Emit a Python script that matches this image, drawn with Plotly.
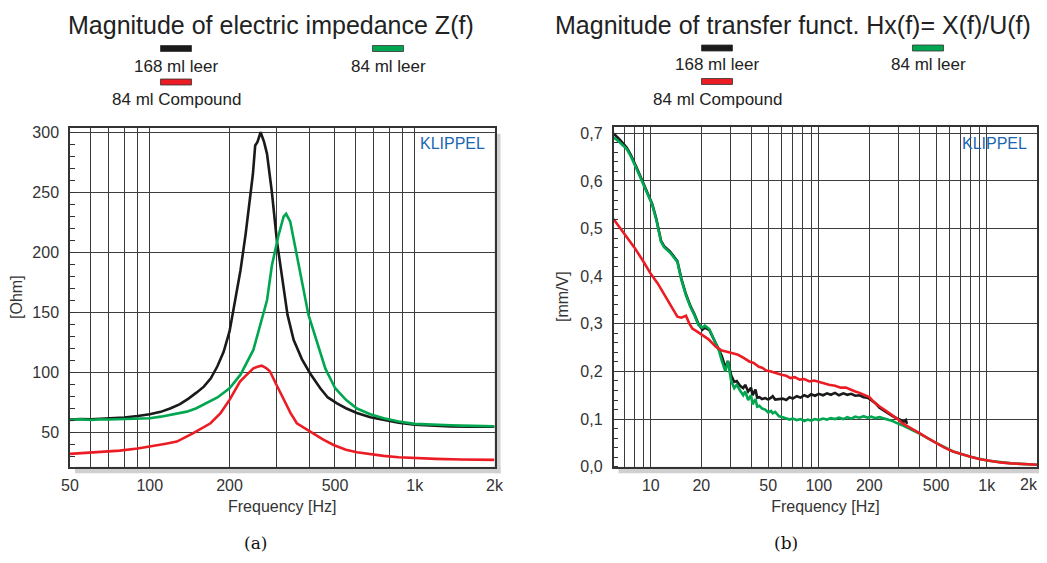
import plotly.graph_objects as go
import math

# page offset of the figure inside the browser body (default body margin)
OFF = 8
W, H = 1047 - OFF, 563 - 2 * OFF

# ---------------- data: left (impedance) ----------------
z_f_black = [50, 55, 60, 65, 70, 80, 90, 100, 110, 120, 130, 140, 150, 160, 170, 180, 190, 200,
             210, 220, 230, 236, 245, 250, 255, 262, 270, 277, 289, 302, 315, 331, 349, 375, 403,
             440, 470, 509, 550, 605, 680, 763, 870, 1000, 1200, 1364, 1600, 2000]
z_black = [60.5, 61, 60.8, 61.2, 61.5, 62.3, 63.5, 65, 67, 70, 73.5, 78, 83, 88, 95, 105, 117, 134,
           160, 185, 215, 237, 265, 289, 292, 300, 292, 282, 250, 209, 181, 148, 127, 111, 99,
           86.6, 79, 74, 70, 66, 62.5, 60.3, 58, 56.2, 55.2, 54.8, 54.6, 54.6]

z_f_green = [50, 55, 60, 65, 70, 80, 90, 100, 110, 120, 138, 150, 164, 180, 200, 220, 246, 260,
             269, 277, 289, 306, 320, 327, 339, 359, 380, 397, 428, 460, 501, 550, 605, 680, 763,
             870, 1000, 1200, 1364, 1500, 1700, 2000]
z_green = [60.3, 60.8, 60.2, 60.9, 60.6, 61, 61.3, 61.7, 63, 64.5, 67.2, 70, 74.2, 79, 86.7, 98, 118.6, 137,
           150.5, 160, 189, 214, 229.7, 232, 225.5, 198, 170, 148, 125, 103, 86.7, 77, 69.8, 65, 61.6,
           59, 57, 56, 55.8, 55.5, 55.3, 55]

z_f_red = [50, 60, 77, 90, 100, 115, 126.5, 146, 169.5, 185, 200, 210, 219, 230, 246, 255, 264.5,
           275, 284, 300, 320, 340, 359, 403, 450, 494, 550, 605, 680, 763, 870, 1000, 1200, 1500, 2000]
z_red = [32, 33.3, 34.7, 36.5, 38, 40.5, 42.2, 49.2, 57.5, 66, 77, 85, 92.2, 97, 103.3, 104.5, 105.5,
         103.5, 100.8, 90, 77, 66, 57.5, 50.8, 44, 39.4, 35.5, 33.3, 31.5, 30.3, 29.2, 28.4, 27.8, 27.3, 27]

# ---------------- data: right (transfer function) ----------------
h_f_black = [6, 6.5, 7.2, 7.6, 8.2, 8.9, 9.5, 10.2, 10.8, 11.5, 12, 13, 14.4, 15.2, 16.2, 17.2, 18.1,
             19.2, 20.3, 21, 22.3, 23.4, 24.4, 25.5, 26.5, 27.8, 28.8, 30.1, 31.4, 32.5, 34, 35.5,
             36.5, 38, 39.5, 40.4, 42, 43, 44.3, 46, 48, 50, 52, 53.2, 55, 58, 61, 64, 67, 70, 74,
             78, 82, 86, 90, 95, 100, 106, 112, 118, 125, 132, 140, 148, 156, 165, 175, 185, 195,
             205, 218, 230, 245, 260, 275, 290, 305, 320, 330, 335]
h_black = [0.700, 0.688, 0.670, 0.655, 0.630, 0.600, 0.578, 0.552, 0.520, 0.475, 0.463, 0.452, 0.432,
           0.395, 0.362, 0.338, 0.322, 0.300, 0.288, 0.292, 0.287, 0.272, 0.262, 0.245, 0.232, 0.208,
           0.222, 0.192, 0.178, 0.180, 0.170, 0.165, 0.172, 0.158, 0.166, 0.150, 0.162, 0.145, 0.146,
           0.142, 0.144, 0.141, 0.145, 0.148, 0.141, 0.142, 0.143, 0.140, 0.146, 0.143, 0.148, 0.145,
           0.150, 0.147, 0.152, 0.149, 0.153, 0.150, 0.154, 0.151, 0.155, 0.150, 0.154, 0.151, 0.153,
           0.149, 0.150, 0.146, 0.145, 0.140, 0.133, 0.124, 0.117, 0.111, 0.106, 0.102, 0.099, 0.094,
           0.098, 0.090]

h_f_green = [6, 6.5, 7.2, 7.6, 8.2, 8.9, 9.5, 10.2, 10.8, 11.5, 12, 13, 14.4, 15.2, 16.2, 17.2, 18.1,
             19.2, 20.3, 21, 22.3, 23.4, 24.4, 25.5, 26.5, 27.8, 28.8, 30.1, 31.4, 32.5, 34, 35.5,
             36.5, 38, 39.5, 40.4, 42, 43, 44.3, 46, 48, 50, 52, 53.2, 55, 58, 61, 64, 67, 70, 74,
             78, 82, 86, 90, 95, 100, 106, 112, 118, 125, 132, 140, 148, 156, 165, 175, 185, 195,
             205, 218, 230, 245, 260, 275, 290, 305, 320, 350, 400, 500, 630, 800, 1000, 1400, 2000]
h_green = [0.692, 0.682, 0.667, 0.652, 0.627, 0.598, 0.576, 0.550, 0.518, 0.473, 0.461, 0.450, 0.430,
           0.393, 0.360, 0.336, 0.320, 0.298, 0.292, 0.296, 0.289, 0.272, 0.260, 0.243, 0.222, 0.200,
           0.222, 0.180, 0.165, 0.172, 0.160, 0.150, 0.158, 0.140, 0.150, 0.131, 0.142, 0.126, 0.128,
           0.122, 0.120, 0.114, 0.117, 0.112, 0.115, 0.106, 0.104, 0.102, 0.099, 0.101, 0.098, 0.100,
           0.096, 0.099, 0.097, 0.100, 0.098, 0.101, 0.099, 0.102, 0.100, 0.103, 0.100, 0.104, 0.101,
           0.105, 0.103, 0.106, 0.103, 0.105, 0.102, 0.104, 0.101, 0.099, 0.096, 0.092, 0.089, 0.086,
           0.079, 0.069, 0.050, 0.032, 0.021, 0.013, 0.007, 0.004]

h_f_red = [6, 7, 8, 9, 10, 11, 12.3, 13.4, 14.4, 15.2, 16.2, 17, 17.7, 19, 20.3, 22, 24.4, 26.5, 28.8,
           31, 33.1, 35.5, 38.6, 41, 44, 46, 48.7, 52, 56, 60, 64, 68, 72, 77, 82, 88, 94, 100, 107,
           115, 125, 135, 145, 155, 165, 175, 188, 200, 210, 229, 250, 274, 295, 315, 350, 400, 450,
           500, 560, 630, 710, 800, 900, 1000, 1200, 1400, 1700, 2000]
h_red = [0.520, 0.488, 0.460, 0.432, 0.405, 0.385, 0.355, 0.333, 0.315, 0.313, 0.317, 0.300, 0.290,
         0.283, 0.277, 0.268, 0.252, 0.244, 0.241, 0.238, 0.235, 0.229, 0.221, 0.218, 0.210, 0.208,
         0.202, 0.200, 0.196, 0.193, 0.191, 0.186, 0.188, 0.183, 0.184, 0.179, 0.181, 0.178, 0.176,
         0.172, 0.170, 0.166, 0.166, 0.161, 0.158, 0.155, 0.150, 0.146, 0.138, 0.127, 0.118, 0.109,
         0.100, 0.091, 0.081, 0.070, 0.059, 0.049, 0.040, 0.032, 0.026, 0.021, 0.016, 0.013, 0.009,
         0.007, 0.005, 0.004]

# ---------------- ticks ----------------
left_x_grid = [50, 60, 70, 80, 90, 100, 200, 300, 400, 500, 600, 700, 800, 900, 1000, 2000]
left_x_text = ["50", "", "", "", "", "100", "200", "", "", "500", "", "", "", "", "1k", "2k"]
right_x_grid = [6, 7, 8, 9, 10, 20, 30, 40, 50, 60, 70, 80, 90, 100, 200, 300, 400, 500, 600, 700,
                800, 900, 1000, 2000]
right_x_text = ["", "", "", "", "10", "20", "", "", "50", "", "", "", "", "100", "200", "", "", "500",
                "", "", "", "", "1k", ""]
right_x_last_label = "2k"
left_y_ticks = [50, 100, 150, 200, 250, 300]
right_y_ticks = [0.0, 0.1, 0.2, 0.3, 0.4, 0.5, 0.6, 0.7]
right_y_text = ["0,0", "0,1", "0,2", "0,3", "0,4", "0,5", "0,6", "0,7"]

series_names = ["168 ml leer", "84 ml leer", "84 ml Compound"]
colors = ["#1a1a1a", "#00a650", "#ec1c24"]

# ---------------- layout geometry (page pixels) ----------------
L_x0, L_x1 = 70, 494.5
R_x0, R_x1 = 613.5, 1037.3
P_top, P_bot = 127.7, 466.7
L_top_r = 126.7


def px(x):
    return (x - OFF) / W


def py(y):
    return 1 - (y - OFF) / H


fig = go.Figure()
line_w = 2.6
fig.add_trace(go.Scatter(x=z_f_black, y=z_black, mode="lines", line=dict(color=colors[0], width=line_w),
                         xaxis="x", yaxis="y", showlegend=False))
fig.add_trace(go.Scatter(x=z_f_green, y=z_green, mode="lines", line=dict(color=colors[1], width=line_w),
                         xaxis="x", yaxis="y", showlegend=False))
fig.add_trace(go.Scatter(x=z_f_red, y=z_red, mode="lines", line=dict(color=colors[2], width=line_w),
                         xaxis="x", yaxis="y", showlegend=False))
fig.add_trace(go.Scatter(x=h_f_black, y=h_black, mode="lines", line=dict(color=colors[0], width=line_w),
                         xaxis="x2", yaxis="y2", showlegend=False))
fig.add_trace(go.Scatter(x=h_f_green, y=h_green, mode="lines", line=dict(color=colors[1], width=line_w),
                         xaxis="x2", yaxis="y2", showlegend=False))
fig.add_trace(go.Scatter(x=h_f_red, y=h_red, mode="lines", line=dict(color=colors[2], width=line_w),
                         xaxis="x2", yaxis="y2", showlegend=False))

grid_c = "#3c3c3c"
axis_c = "#333333"
font_fam = "Liberation Sans, Arial, sans-serif"
tick_font = dict(family=font_fam, size=16, color="#333333")

common_x = dict(type="log", showline=True, mirror=True, linecolor=axis_c, linewidth=1.5,
                showgrid=True, gridcolor=grid_c, gridwidth=1, ticks="", tickfont=tick_font,
                zeroline=False, automargin=False, ticklabelstandoff=3,
                title=dict(text="Frequency [Hz]", font=dict(family=font_fam, size=16, color="#333"), standoff=8))
common_y = dict(showline=True, mirror=True, linecolor=axis_c, linewidth=1.5, showgrid=True,
                gridcolor=grid_c, gridwidth=1, ticks="", tickfont=tick_font, zeroline=False,
                automargin=False, ticklabelstandoff=6)

fig.update_layout(
    width=W, height=H, margin=dict(l=0, r=0, t=0, b=0),
    paper_bgcolor="white", plot_bgcolor="white",
    xaxis=dict(common_x, domain=[px(L_x0), px(L_x1)], range=[math.log10(50), math.log10(2000)],
               tickvals=left_x_grid, ticktext=left_x_text, anchor="y"),
    yaxis=dict(common_y, domain=[py(P_bot), py(P_top)], range=[21.3, 303.8],
               tickvals=left_y_ticks, anchor="x",
               minor=dict(dtick=10, tick0=0, ticks="inside", ticklen=5, tickcolor=axis_c, showgrid=False),
               title=dict(text="[Ohm]", font=dict(family=font_fam, size=16, color="#333"), standoff=8)),
    xaxis2=dict(common_x, domain=[px(R_x0), px(R_x1)], range=[math.log10(6), math.log10(2000)],
                tickvals=right_x_grid, ticktext=right_x_text, anchor="y2"),
    yaxis2=dict(common_y, domain=[py(P_bot), py(L_top_r)], range=[0, 0.714],
                tickvals=right_y_ticks, ticktext=right_y_text, anchor="x2",
                minor=dict(dtick=0.02, tick0=0, ticks="inside", ticklen=5, tickcolor=axis_c, showgrid=False),
                title=dict(text="[mm/V]", font=dict(family=font_fam, size=16, color="#333"), standoff=8)),
)

shapes = []
shadow_c = "#d0d0d0"
for (x0, x1, top) in [(L_x0, L_x1, P_top), (R_x0, R_x1, L_top_r)]:
    shapes.append(dict(type="rect", xref="paper", yref="paper", x0=px(x0 + 5), x1=px(x1 + 6),
                       y0=py(P_bot + 6.5), y1=py(P_bot), fillcolor=shadow_c, line=dict(width=0), layer="below"))
    shapes.append(dict(type="rect", xref="paper", yref="paper", x0=px(x1), x1=px(x1 + 6),
                       y0=py(P_bot + 6.5), y1=py(top + 6), fillcolor=shadow_c, line=dict(width=0), layer="below"))

annotations = []
annotations.append(dict(text="Magnitude of electric impedance Z(f)", x=px(271), y=py(25), xref="paper", yref="paper",
                        showarrow=False, xanchor="center", yanchor="middle",
                        font=dict(family=font_fam, size=25, color="#222")))
annotations.append(dict(text="Magnitude of transfer funct. Hx(f)= X(f)/U(f)", x=px(793), y=py(25), xref="paper",
                        yref="paper", showarrow=False, xanchor="center", yanchor="middle",
                        font=dict(family=font_fam, size=25, color="#222")))

legend_pos = {
    "left": [(176, 48.5, 66), (388, 48.5, 66), (176, 82, 99)],
    "right": [(717, 48, 64), (928, 48, 64), (717, 81.5, 99)],
}
for side, items in legend_pos.items():
    for (cx, by, ty), name, col in zip(items, series_names, colors):
        shapes.append(dict(type="rect", xref="paper", yref="paper", x0=px(cx - 15.5), x1=px(cx + 15.5),
                           y0=py(by + 3), y1=py(by - 3), fillcolor=col, line=dict(color="#333", width=0.8)))
        annotations.append(dict(text=name, x=px(cx), y=py(ty), xref="paper", yref="paper", showarrow=False,
                                xanchor="center", yanchor="middle",
                                font=dict(family=font_fam, size=17, color="#222")))

# last x label of the right panel (kept inside the visible page)
annotations.append(dict(text=right_x_last_label, x=px(1040), y=py(484), xref="paper", yref="paper",
                        showarrow=False, xanchor="right", yanchor="middle", font=tick_font))

annotations.append(dict(text="KLIPPEL", x=px(487), y=py(143), xref="paper", yref="paper", showarrow=False,
                        xanchor="right", yanchor="middle", font=dict(family=font_fam, size=16, color="#1a67b0")))
annotations.append(dict(text="KLIPPEL", x=px(1029), y=py(143), xref="paper", yref="paper", showarrow=False,
                        xanchor="right", yanchor="middle", font=dict(family=font_fam, size=16, color="#1a67b0")))

annotations.append(dict(text="(a)", x=px(255), y=py(543), xref="paper", yref="paper", showarrow=False,
                        xanchor="center", yanchor="middle", font=dict(family="DejaVu Serif, serif", size=17, color="#111")))
annotations.append(dict(text="(b)", x=px(786), y=py(543), xref="paper", yref="paper", showarrow=False,
                        xanchor="center", yanchor="middle", font=dict(family="DejaVu Serif, serif", size=17, color="#111")))

fig.update_layout(shapes=shapes, annotations=annotations)
fig.write_html("out.html")
